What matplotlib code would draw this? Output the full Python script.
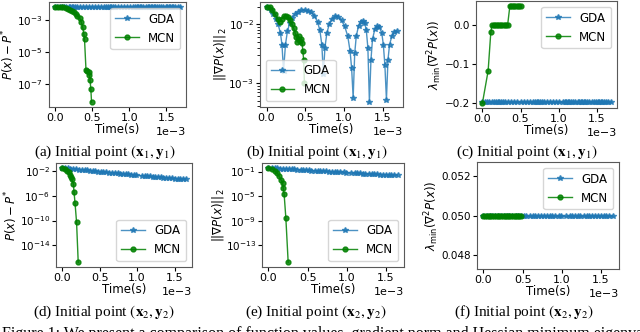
import matplotlib
matplotlib.use("Agg")
import matplotlib.pyplot as plt
import numpy as np

# ---- data (times in ms, scaled to seconds when plotted) ----
# initial point 1, GDA
t_gda1 = [0.00, 0.03, 0.06, 0.09, 0.12, 0.15, 0.18, 0.20, 0.22,
          0.245, 0.27, 0.30, 0.33, 0.37, 0.41, 0.45, 0.50, 0.54, 0.58, 0.62, 0.66, 0.69, 0.715, 0.735,
          0.755, 0.78, 0.81, 0.85, 0.89, 0.93, 0.97, 1.01, 1.05, 1.08, 1.10, 1.12,
          1.14, 1.16, 1.19, 1.22, 1.25, 1.27, 1.29, 1.31, 1.33,
          1.35, 1.37, 1.40, 1.43, 1.46, 1.49, 1.51, 1.53, 1.55,
          1.57, 1.59, 1.62, 1.65, 1.68]
gap_gda1 = 6.3e-3
grad_gda1 = [2.0e-2, 1.9e-2, 1.75e-2, 1.5e-2, 1.25e-2, 1.0e-2, 7.1e-3, 4.5e-3, 1.6e-3,
             4.5e-3, 7.6e-3, 1.05e-2, 1.3e-2, 1.5e-2, 1.65e-2, 1.75e-2, 1.75e-2, 1.7e-2, 1.6e-2, 1.4e-2,
             1.1e-2, 7.9e-3, 4.5e-3, 1.4e-3,
             4.0e-3, 7.1e-3, 1.0e-2, 1.25e-2, 1.4e-2, 1.35e-2, 1.17e-2, 9.3e-3, 6.3e-3, 3.5e-3, 1.8e-3, 5.6e-4,
             3.2e-3, 6.3e-3, 9.5e-3, 1.12e-2, 1.15e-2, 1.05e-2, 7.9e-3, 4.0e-3, 4.7e-4,
             2.5e-3, 5.6e-3, 8.3e-3, 9.3e-3, 8.9e-3, 7.1e-3, 4.5e-3, 2.0e-3, 5.2e-4,
             2.5e-3, 4.5e-3, 6.3e-3, 7.4e-3, 7.8e-3]
lam_gda1 = -0.198

# initial point 1, MCN
t_mcn1 = [0.0, 0.04, 0.075, 0.11, 0.145, 0.175, 0.2, 0.23, 0.25, 0.28, 0.3, 0.33,
          0.35, 0.37, 0.385, 0.395, 0.415, 0.435, 0.45, 0.46, 0.47, 0.48, 0.49]
gap_mcn1 = [6.3e-3, 6.3e-3, 6.3e-3, 5.8e-3, 5.2e-3, 4.6e-3, 4.0e-3, 3.5e-3, 2.8e-3, 2.2e-3, 1.6e-3, 1.25e-3,
            7.2e-4, 3.5e-4, 1.4e-4, 6.3e-5, 7.9e-7, 7.2e-7, 5.5e-7, 4.0e-7, 1.8e-7, 5.5e-8, 7.9e-9]
grad_mcn1 = [2.0e-2, 1.95e-2, 1.78e-2, 1.5e-2, 1.26e-2, 1.12e-2, 1.26e-2, 1.38e-2, 1.41e-2, 1.32e-2, 1.2e-2, 1.0e-2,
             8.7e-3, 7.1e-3, 6.0e-3, 5.0e-3, 6.3e-3, 5.2e-3, 5.6e-3, 4.8e-3, 3.5e-3, 2.5e-3, 1.0e-3]
t_mcn1_lam = [0.0, 0.075, 0.11, 0.125, 0.15, 0.17, 0.19, 0.21, 0.23, 0.25, 0.27, 0.29, 0.31, 0.33,
              0.36, 0.38, 0.40, 0.42, 0.44, 0.46, 0.48, 0.50]
lam_mcn1 = [-0.2, -0.117, -0.018, 0.0, 0.0, 0.0, 0.0, 0.0, 0.0, 0.0, 0.0, 0.0, 0.0, 0.0,
            0.05, 0.05, 0.05, 0.05, 0.05, 0.05, 0.05, 0.05]

# initial point 2, GDA
t_gda2 = [0.0, 0.04, 0.08, 0.11, 0.15, 0.19, 0.22, 0.26, 0.30, 0.33, 0.37, 0.41, 0.44, 0.48, 0.52,
          0.55, 0.59, 0.63, 0.66, 0.70, 0.74, 0.77, 0.81, 0.85, 0.88, 0.92, 0.96, 0.99, 1.06, 1.10,
          1.13, 1.17, 1.21, 1.24, 1.28, 1.32, 1.35, 1.39, 1.43, 1.46, 1.50, 1.54, 1.57, 1.61, 1.65]
gap_gda2 = [4.0e-2, 3.5e-2, 3.1e-2, 2.8e-2, 2.5e-2, 2.2e-2, 2.04e-2, 1.8e-2, 1.6e-2, 1.47e-2, 1.31e-2,
            1.17e-2, 1.07e-2, 9.5e-3, 8.5e-3, 7.8e-3, 7.0e-3, 6.3e-3, 5.8e-3, 5.2e-3, 4.6e-3, 4.3e-3,
            3.8e-3, 3.5e-3, 3.2e-3, 2.9e-3, 2.6e-3, 2.4e-3, 2.0e-3, 1.8e-3, 1.7e-3, 1.53e-3, 1.39e-3,
            1.29e-3, 1.17e-3, 1.06e-3, 9.9e-4, 9.0e-4, 8.2e-4, 7.7e-4, 7.0e-4, 6.4e-4, 6.0e-4, 5.5e-4, 5.0e-4]
grad_gda2 = [0.42, 0.385, 0.355, 0.334, 0.309, 0.286, 0.269, 0.249, 0.231, 0.218, 0.202, 0.187, 0.177,
             0.164, 0.152, 0.144, 0.134, 0.125, 0.118, 0.110, 0.103, 0.097, 0.091, 0.085, 0.080, 0.075,
             0.070, 0.067, 0.059, 0.056, 0.053, 0.050, 0.047, 0.044, 0.042, 0.039, 0.037, 0.035, 0.033,
             0.032, 0.030, 0.028, 0.027, 0.025, 0.024]
lam_gda2 = 0.05

# initial point 2, MCN
t_mcn2_gap = [0.0, 0.043, 0.064, 0.085, 0.107, 0.12, 0.128, 0.15, 0.158, 0.171, 0.192, 0.214]
gap_mcn2 = [4.0e-2, 2.6e-2, 1.26e-2, 6.9e-3, 3.0e-3, 1.17e-3, 5.0e-4, 8.5e-5, 4.3e-6, 8.5e-8, 5.0e-11, 1.6e-17]
t_mcn2_grad = [0.0, 0.051, 0.085, 0.115, 0.137, 0.158, 0.18, 0.188, 0.20, 0.222, 0.252]
grad_mcn2 = [0.42, 0.26, 0.126, 5.5e-2, 1.66e-2, 5.0e-3, 1.55e-3, 2.5e-4, 2.3e-5, 3.2e-9, 1.6e-16]
t_mcn2_lam = [0.0, 0.025, 0.05, 0.07, 0.09, 0.11, 0.135, 0.16, 0.18, 0.2, 0.22, 0.245,
              0.27, 0.29, 0.31, 0.33, 0.355, 0.38, 0.40, 0.42, 0.44, 0.46, 0.48]
lam_mcn2 = 0.05

captions = ["(a) Initial point $(\\mathbf{x}_1,\\mathbf{y}_1)$",
            "(b) Initial point $(\\mathbf{x}_1,\\mathbf{y}_1)$",
            "(c) Initial point $(\\mathbf{x}_1,\\mathbf{y}_1)$",
            "(d) Initial point $(\\mathbf{x}_2,\\mathbf{y}_2)$",
            "(e) Initial point $(\\mathbf{x}_2,\\mathbf{y}_2)$",
            "(f) Initial point $(\\mathbf{x}_2,\\mathbf{y}_2)$"]

FS = 8
plt.rcParams['font.size'] = FS
plt.rcParams['xtick.labelsize'] = FS
plt.rcParams['ytick.labelsize'] = 7.5

fig = plt.figure(figsize=(6.4, 3.32), dpi=100)

def px_axes(x0, x1, y0, y1):
    W, H = 640.0, 332.0
    return fig.add_axes([x0 / W, 1 - y1 / H, (x1 - x0) / W, (y1 - y0) / H])

ax_a = px_axes(49, 186, 2, 107)
ax_b = px_axes(260, 403, 2, 107)
ax_c = px_axes(476, 617, 1, 108)
ax_d = px_axes(56, 192, 163, 267)
ax_e = px_axes(262, 404, 163, 267)
ax_f = px_axes(477, 619, 162, 269)

gda_kw = dict(color='#1f77b4', marker='*', markersize=4, lw=1, alpha=0.8, label='GDA')
mcn_kw = dict(color='green', marker='o', markersize=3.5, lw=1, alpha=0.85, label='MCN')
LEG = 8.5
YL = 8.5

def ms(t):
    return np.array(t) * 1e-3

# (a)
ax_a.plot(ms(t_gda1), np.full(len(t_gda1), gap_gda1), **gda_kw)
ax_a.plot(ms(t_mcn1), gap_mcn1, **mcn_kw)
ax_a.set_yscale('log')
ax_a.set_yticks([1e-3, 1e-5, 1e-7])
ax_a.set_ylabel('$P(x) - P^{*}$', fontsize=YL, labelpad=0)
ax_a.legend(loc='upper right', fontsize=LEG)

# (b)
ax_b.plot(ms(t_gda1), grad_gda1, **gda_kw)
ax_b.plot(ms(t_mcn1), grad_mcn1, **mcn_kw)
ax_b.set_yscale('log')
ax_b.set_yticks([1e-2, 1e-3])
ax_b.set_ylabel('$||\\nabla P(x)||_2$', fontsize=YL, labelpad=0)
ax_b.legend(loc='lower left', fontsize=LEG)

# (c)
ax_c.plot(ms(t_gda1), np.full(len(t_gda1), lam_gda1), **gda_kw)
ax_c.plot(ms(t_mcn1_lam), lam_mcn1, **mcn_kw)
ax_c.set_yticks([-0.2, -0.1, 0.0])
ax_c.set_ylabel('$\\lambda_{\\min}(\\nabla^2 P(x))$', fontsize=YL, labelpad=0)
ax_c.legend(loc='upper right', fontsize=LEG)

# (d)
ax_d.plot(ms(t_gda2), gap_gda2, **gda_kw)
ax_d.plot(ms(t_mcn2_gap), gap_mcn2, **mcn_kw)
ax_d.set_yscale('log')
ax_d.set_yticks([1e-2, 1e-6, 1e-10, 1e-14])
ax_d.set_ylabel('$P(x) - P^{*}$', fontsize=YL, labelpad=0)
ax_d.legend(loc='lower right', fontsize=LEG)

# (e)
ax_e.plot(ms(t_gda2), grad_gda2, **gda_kw)
ax_e.plot(ms(t_mcn2_grad), grad_mcn2, **mcn_kw)
ax_e.set_yscale('log')
ax_e.set_yticks([1e-1, 1e-5, 1e-9, 1e-13])
ax_e.set_ylabel('$||\\nabla P(x)||_2$', fontsize=YL, labelpad=0)
ax_e.legend(loc='lower right', fontsize=LEG)

# (f)
ax_f.plot(ms(t_gda2), np.full(len(t_gda2), lam_gda2), **gda_kw)
ax_f.plot(ms(t_mcn2_lam), np.full(len(t_mcn2_lam), lam_mcn2), **mcn_kw)
ax_f.set_ylim(0.0473, 0.0527)
ax_f.set_yticks([0.048, 0.050, 0.052])
ax_f.set_ylabel('$\\lambda_{\\min}(\\nabla^2 P(x))$', fontsize=YL, labelpad=0)
ax_f.legend(loc='upper right', fontsize=LEG)

for ax in [ax_a, ax_b, ax_c, ax_d, ax_e, ax_f]:
    ax.set_xticks([0.0, 0.5e-3, 1.0e-3, 1.5e-3])
    ax.ticklabel_format(axis='x', style='sci', scilimits=(0, 0))
    ax.set_xlabel('Time(s)', fontsize=FS + 0.5, labelpad=0)
    ax.tick_params(pad=1.5, length=3)
    for s in ax.spines.values():
        s.set_color('0.35')

# captions
cap_x = [105, 317, 527, 104, 316, 524]
cap_y = [152, 152, 152, 312, 312, 312]
for cx, cy, txt in zip(cap_x, cap_y, captions):
    fig.text(cx / 640, 1 - cy / 332, txt, ha='center', va='center', fontsize=11,
             family='Liberation Serif', math_fontfamily='stix')

fig.text(0.003, 1 - 326 / 332,
         'Figure 1: We present a comparison of function values, gradient norm and Hessian minimum eigenvalues along the',
         ha='left', va='top', fontsize=11.5, family='Liberation Serif')

fig.savefig('out.png', dpi=100)
